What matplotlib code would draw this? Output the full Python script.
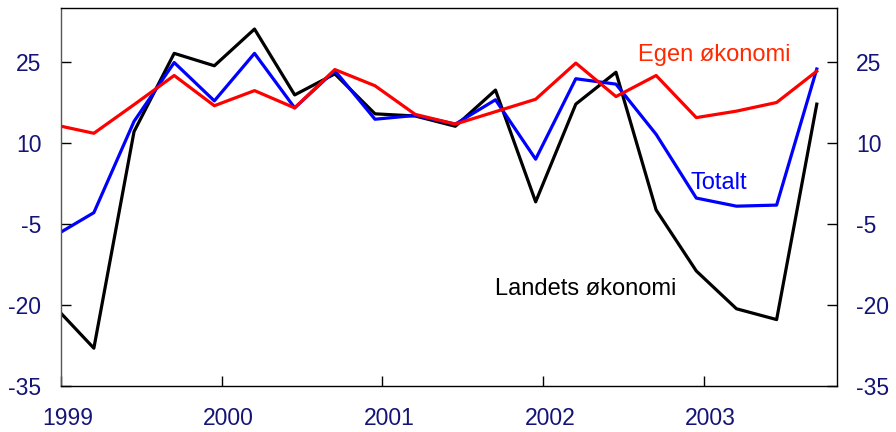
import numpy as np
import matplotlib
matplotlib.use("Agg")
import matplotlib.pyplot as plt
from matplotlib.transforms import ScaledTranslation

plt.rcParams['font.family'] = ['Liberation Sans', 'DejaVu Sans']

# kvartalsdata 1999 K1 - 2003 K4
kvartal = np.arange(20)
landets = [-20.1, -28.0, 12.1, 26.6, 24.3, 31.1, 18.9, 22.8, 15.4, 15.0,
           13.1, 19.8, -0.9, 17.2, 23.1, -2.4, -13.7, -20.7, -22.7, 17.2]
totalt = [-7.3, -2.9, 14.0, 24.9, 17.8, 26.6, 16.5, 23.4, 14.4, 15.1,
          13.5, 18.0, 7.0, 21.9, 20.9, 11.6, -0.2, -1.7, -1.5, 23.7]
egen = [13.4, 11.8, 17.1, 22.5, 16.9, 19.7, 16.5, 23.6, 20.6, 15.3,
        13.5, 15.8, 18.1, 24.8, 18.6, 22.5, 14.7, 15.9, 17.5, 23.3]
aar = [1999, 2000, 2001, 2002, 2003]
yticks = [-35, -20, -5, 10, 25]

x = 1999 + kvartal / 4 - 0.045
navy = '#141478'

fig = plt.figure(figsize=(8.96, 4.32), dpi=100)
ax = fig.add_axes([0.068, 0.1065, 0.866, 0.875])

ax.plot(x, landets, color='black', lw=2.3)
ax.plot(x, totalt, color='#0000ff', lw=2.3)
ax.plot(x, egen, color='#ff0000', lw=2.3)

ax.set_xlim(1999, 2003.83)
ax.set_ylim(-35, 35)
ax.set_xticks(aar)
ax.set_xticklabels([str(a) for a in aar])
ax.set_yticks(yticks)
ax.set_yticklabels([str(t) for t in yticks])

ax.tick_params(axis='both', direction='in', length=7, width=1, colors='black',
               labelcolor=navy, labelsize=16.5)
ax.tick_params(axis='y', right=True, labelright=True, pad=14)
ax.tick_params(axis='x', pad=15)
for lbl in ax.get_xticklabels():
    lbl.set_transform(lbl.get_transform() + ScaledTranslation(0.07, 0, fig.dpi_scale_trans))
for s in ax.spines.values():
    s.set_linewidth(1)
ax.spines['left'].set_color('#555555')

ax.text(2002.59, 25.2, 'Egen økonomi', color='#ff2a00', fontsize=17, va='baseline')
ax.text(2002.92, 1.4, 'Totalt', color='#0000ff', fontsize=17, va='baseline')
ax.text(2001.70, -18.1, 'Landets økonomi', color='black', fontsize=17, va='baseline')

fig.savefig('out.png', dpi=100)
